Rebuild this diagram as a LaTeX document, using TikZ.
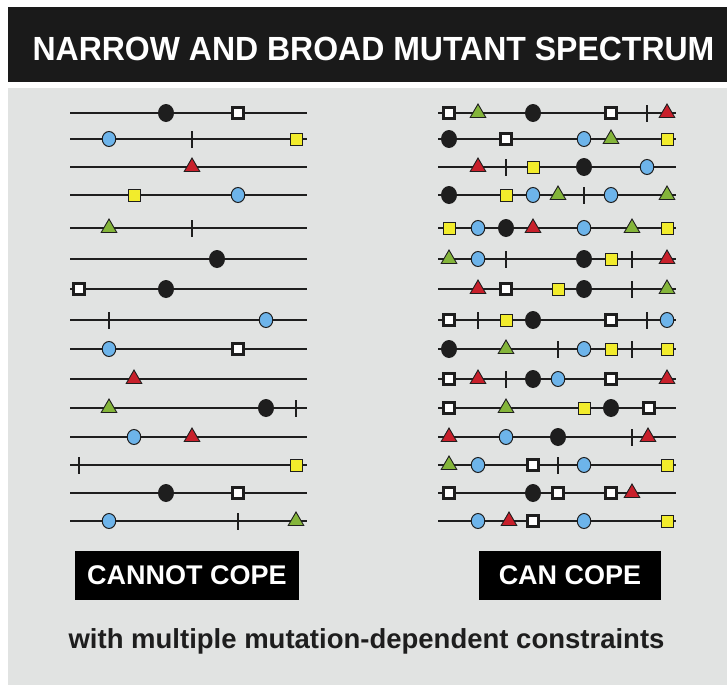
\documentclass[tikz,border=0pt]{standalone}
\usepackage{fontspec}
\setmainfont{Liberation Sans}
\usepackage{graphicx}
\usepackage{xcolor}
\usetikzlibrary{shapes.geometric}

\definecolor{barblack}{HTML}{1A1A1A}
\definecolor{panelgray}{HTML}{E1E3E2}
\definecolor{inkblack}{HTML}{1E1E1E}
\definecolor{dotblue}{HTML}{6DB4EA}
\definecolor{sqyellow}{HTML}{F2EC2C}
\definecolor{trired}{HTML}{C8202B}
\definecolor{trigreen}{HTML}{84B53A}

\tikzset{
    mutline/.style={line width=1.4pt, draw=inkblack},
    mBlack/.style={ellipse, fill=inkblack, minimum width=16pt, minimum height=18pt, inner sep=0pt},
    mBlue/.style={ellipse, fill=dotblue, draw=inkblack, line width=1pt, minimum width=13.5pt, minimum height=15pt, inner sep=0pt},
    mWhite/.style={rectangle, fill=white, draw=inkblack, line width=2.2pt, minimum size=11pt, inner sep=0pt},
    mYellow/.style={rectangle, fill=sqyellow, draw=inkblack, line width=1pt, minimum size=12pt, inner sep=0pt},
    mRed/.style={regular polygon, regular polygon sides=3, fill=trired, draw=inkblack, line width=0.9pt, minimum size=18pt, inner sep=0pt},
    mGreen/.style={regular polygon, regular polygon sides=3, fill=trigreen, draw=inkblack, line width=0.9pt, minimum size=18pt, inner sep=0pt},
    mTick/.style={rectangle, fill=inkblack, minimum width=2.4pt, minimum height=17pt, inner sep=0pt},
    copebox/.style={fill=black, text=white, minimum height=49pt, inner sep=0pt, font=\bfseries\fontsize{27}{32}\selectfont}
}

\begin{document}
\begin{tikzpicture}[x=1pt, y=-1pt]
    \useasboundingbox (0,0) rectangle (727,685);
    \fill[white] (0,0) rectangle (727,685);
    \fill[barblack] (8,7) rectangle (727,82);
    \fill[panelgray] (8,88) rectangle (727,685);

    \node[anchor=base, text=white, inner sep=0pt] (title) at (373.5,60)
        {\scalebox{0.955}[1]{\bfseries\fontsize{33.5}{40}\selectfont NARROW AND BROAD MUTANT SPECTRUM}};

    % narrow spectrum
    \foreach \y/\row in {113/{mBlack/166,mWhite/238},
                         139/{mBlue/109,mTick/192,mYellow/296},
                         167/{mRed/192},
                         195/{mYellow/134,mBlue/238},
                         228/{mGreen/109,mTick/192},
                         259/{mBlack/217},
                         289/{mWhite/79,mBlack/166},
                         320/{mTick/109,mBlue/266},
                         349/{mBlue/109,mWhite/238},
                         379/{mRed/134},
                         408/{mGreen/109,mBlack/266,mTick/296},
                         437/{mBlue/134,mRed/192},
                         465/{mTick/79,mYellow/296},
                         493/{mBlack/166,mWhite/238},
                         521/{mBlue/109,mTick/238,mGreen/296}} {
        \coordinate (Ls\y) at (70,\y);
        \coordinate (Le\y) at (307,\y);
        \draw[mutline] (Ls\y) -- (Le\y);
        \foreach \m/\x in \row
            \node[\m] (L\y-\x) at (\x,\y) {};
    }

    % broad spectrum
    \foreach \y/\row in {113/{mWhite/449,mGreen/478,mBlack/533,mWhite/611,mTick/647,mRed/667},
                         139/{mBlack/449,mWhite/506,mBlue/584,mGreen/611,mYellow/667},
                         167/{mRed/478,mTick/506,mYellow/533,mBlack/584,mBlue/647},
                         195/{mBlack/449,mYellow/506,mBlue/533,mGreen/558,mTick/584,mBlue/611,mGreen/667},
                         228/{mYellow/449,mBlue/478,mBlack/506,mRed/533,mBlue/584,mGreen/632,mYellow/667},
                         259/{mGreen/449,mBlue/478,mTick/506,mBlack/584,mYellow/611,mTick/632,mRed/667},
                         289/{mRed/478,mWhite/506,mYellow/558,mBlack/584,mTick/632,mGreen/667},
                         320/{mWhite/449,mTick/478,mYellow/506,mBlack/533,mWhite/611,mTick/647,mBlue/667},
                         349/{mBlack/449,mGreen/506,mTick/558,mBlue/584,mYellow/611,mTick/632,mYellow/667},
                         379/{mWhite/449,mRed/478,mTick/506,mBlack/533,mBlue/558,mWhite/611,mRed/667},
                         408/{mWhite/449,mGreen/506,mYellow/584,mBlack/611,mWhite/649},
                         437/{mRed/449,mBlue/506,mBlack/558,mTick/632,mRed/648},
                         465/{mGreen/449,mBlue/478,mWhite/533,mTick/558,mBlue/584,mYellow/667},
                         493/{mWhite/449,mBlack/533,mWhite/558,mWhite/611,mRed/632},
                         521/{mBlue/478,mRed/509,mWhite/533,mBlue/584,mYellow/667}} {
        \coordinate (Rs\y) at (438,\y);
        \coordinate (Re\y) at (676,\y);
        \draw[mutline] (Rs\y) -- (Re\y);
        \foreach \m/\x in \row
            \node[\m] (R\y-\x) at (\x,\y) {};
    }

    \node[copebox, minimum width=224pt] (cannot) at (187,575.5) {CANNOT COPE};
    \node[copebox, minimum width=182pt] (can) at (570,575.5) {CAN COPE};

    \node[anchor=base, text=inkblack, inner sep=0pt, font=\bfseries\fontsize{27.5}{32}\selectfont] (note) at (366.5,648)
        {with multiple mutation-dependent constraints};
\end{tikzpicture}
\end{document}
